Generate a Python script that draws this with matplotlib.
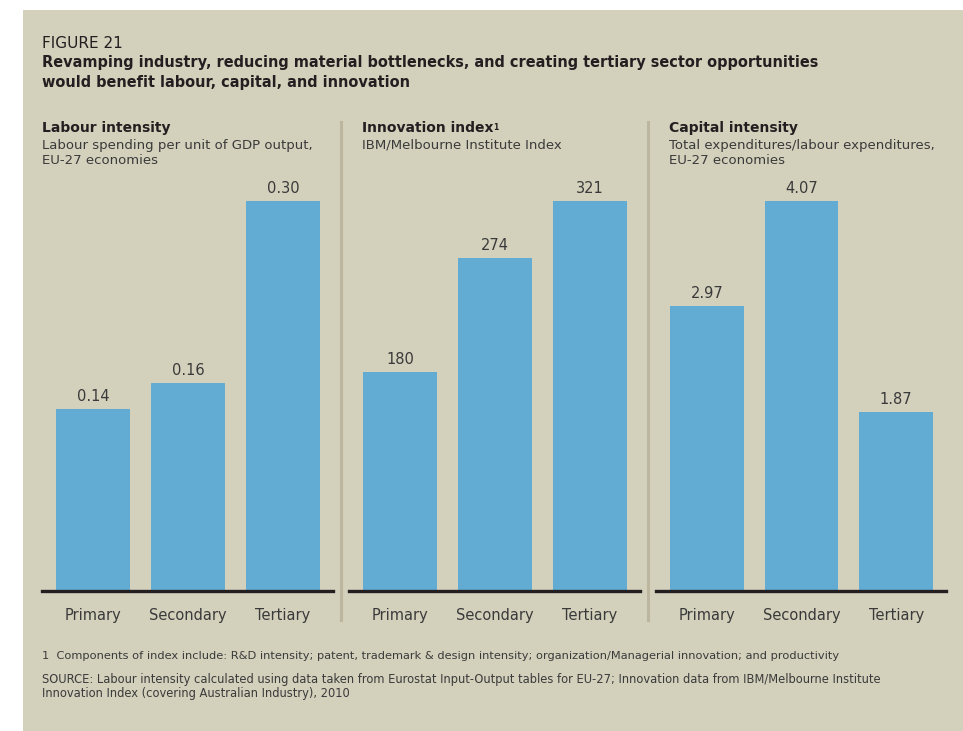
import matplotlib
matplotlib.use("Agg")
import matplotlib.pyplot as plt
from matplotlib.patches import Rectangle
from matplotlib.lines import Line2D

W, H = 963, 731
categories = ["Primary", "Secondary", "Tertiary"]
labour_values = [0.14, 0.16, 0.30]
labour_labels = ["0.14", "0.16", "0.30"]
innovation_values = [180, 274, 321]
innovation_labels = ["180", "274", "321"]
capital_values = [2.97, 4.07, 1.87]
capital_labels = ["2.97", "4.07", "1.87"]

panel_titles = ["Labour intensity", "Innovation index", "Capital intensity"]
panel_title_marks = ["", "1", ""]
panel_subtitles = [
    ["Labour spending per unit of GDP output,", "EU-27 economies"],
    ["IBM/Melbourne Institute Index"],
    ["Total expenditures/labour expenditures,", "EU-27 economies"],
]

BG = "#D3D0BC"
BAR = "#62ACD4"
DARK = "#231F20"
TXT = "#3A3A3A"
DIV = "#BDB69E"

plt.rcParams['font.family'] = ['DejaVu Sans']

fig = plt.figure(figsize=(W / 100, H / 100), dpi=100)
fig.patch.set_facecolor("white")

def fx(x):
    return x / W

def fy(y):
    return 1 - y / H

fig.patches.append(Rectangle((fx(23), 0), 1 - fx(23), fy(10), transform=fig.transFigure,
                             facecolor=BG, edgecolor="none", zorder=-10))

fig.text(fx(42), fy(44), "FIGURE 21", fontsize=11, color=DARK, va="center", ha="left")
fig.text(fx(42), fy(63), "Revamping industry, reducing material bottlenecks, and creating tertiary sector opportunities",
         fontsize=10.45, fontweight="bold", color=DARK, va="center", ha="left")
fig.text(fx(42), fy(82), "would benefit labour, capital, and innovation",
         fontsize=10.45, fontweight="bold", color=DARK, va="center", ha="left")

# dividers
for xd in (341, 648):
    fig.lines.append(Line2D([fx(xd), fx(xd)], [fy(122), fy(620)], transform=fig.transFigure,
                            color=DIV, lw=2.2))

panels = [
    (42, 333, 42, labour_values, labour_labels),
    (349, 640, 362, innovation_values, innovation_labels),
    (656, 946, 669, capital_values, capital_labels),
]

base_y, top_y = 591, 201
for i, (xl, xr, tx, vals, labs) in enumerate(panels):
    ax = fig.add_axes([fx(xl), fy(base_y), fx(xr) - fx(xl), (base_y - top_y) / H])
    ax.set_facecolor("none")
    xs = list(range(len(categories)))
    ax.bar(xs, vals, width=74 / 95, color=BAR, zorder=2)
    ax.set_xlim(-(37 + 14) / 95, 2 + (37 + 13) / 95)
    ax.set_ylim(0, max(vals))
    for s in ax.spines.values():
        s.set_visible(False)
    ax.axhline(0, color=DARK, lw=2.4, zorder=3, clip_on=False)
    ax.set_yticks([])
    ax.set_xticks(xs)
    ax.set_xticklabels(categories, fontsize=10.5, color=TXT)
    ax.tick_params(axis="x", length=0, pad=12.5)
    for x, v, l in zip(xs, vals, labs):
        ax.annotate(l, (x, v), xytext=(0, 9), textcoords="offset points",
                    ha="center", va="center", fontsize=10.5, color=TXT, annotation_clip=False)
    t = fig.text(fx(tx), fy(128), panel_titles[i], fontsize=10, fontweight="bold", color=DARK,
                 va="center", ha="left")
    if panel_title_marks[i]:
        ax.annotate(panel_title_marks[i], xy=(1, 1), xycoords=t, xytext=(0, -1.5),
                    textcoords="offset points", fontsize=5.5, fontweight="bold", color=DARK,
                    ha="left", va="top", annotation_clip=False)
    for j, line in enumerate(panel_subtitles[i]):
        fig.text(fx(tx), fy(145 + 16 * j), line, fontsize=9.5, color=TXT,
                 va="center", ha="left")

fig.text(fx(42), fy(656), "1  Components of index include: R&D intensity; patent, trademark & design intensity; organization/Managerial innovation; and productivity",
         fontsize=8.2, color=TXT, va="center", ha="left")
fig.text(fx(42), fy(680), "SOURCE: Labour intensity calculated using data taken from Eurostat Input-Output tables for EU-27; Innovation data from IBM/Melbourne Institute",
         fontsize=8.3, color=TXT, va="center", ha="left")
fig.text(fx(42), fy(694), "Innovation Index (covering Australian Industry), 2010",
         fontsize=8.3, color=TXT, va="center", ha="left")

fig.savefig("out.png", dpi=100, facecolor="white")
